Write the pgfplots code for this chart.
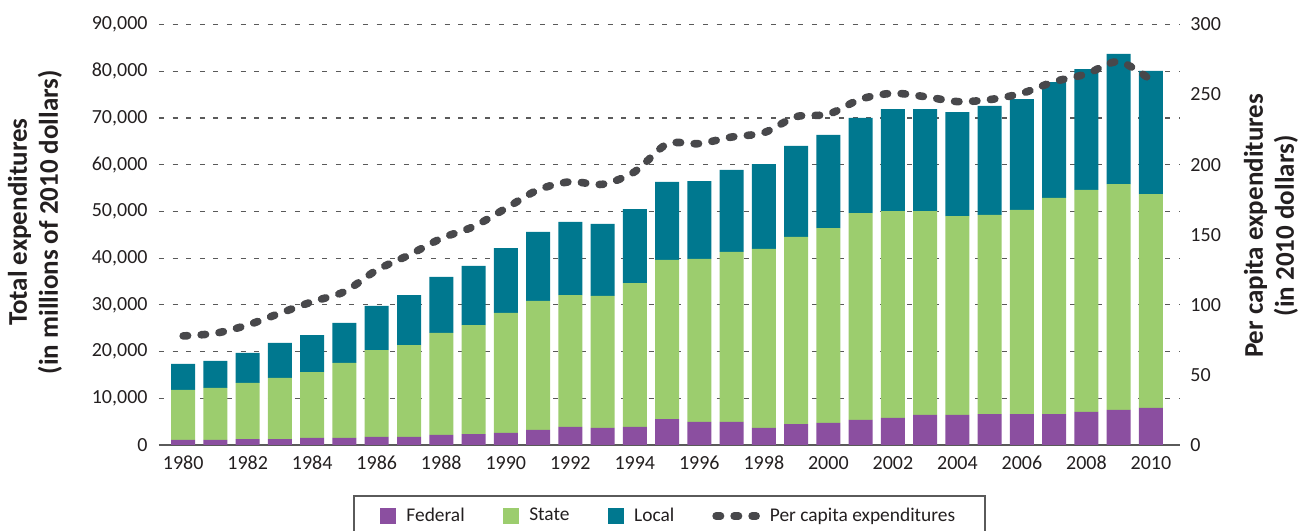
\documentclass[border=0pt]{standalone}
\usepackage{fontspec}
\setmainfont{Carlito}
\usepackage{pgfplots}
\usepackage{pgfplotstable}
\pgfplotsset{compat=1.18}

\definecolor{fedc}{HTML}{8B4FA0}
\definecolor{statec}{HTML}{9CCD6E}
\definecolor{localc}{HTML}{00788F}
\definecolor{linec}{HTML}{48484B}
\definecolor{gridc}{HTML}{5A5A5A}
\definecolor{txt}{HTML}{231F20}

% millions of 2010 dollars; per capita in 2010 dollars
\pgfplotstableread{
year federal state local percap
1980 1070 10700  5570  77.8
1981 1070 11130  5780  79.7
1982 1280 11990  6420  85.6
1983 1280 13060  7490  94.0
1984 1500 14120  7920 102.2
1985 1500 16050  8560 109.4
1986 1710 18620  9420 124.8
1987 1710 19690 10700 135.5
1988 2140 21830 11990 147.4
1989 2350 23330 12630 155.8
1990 2570 25680 13910 168.8
1991 3210 27610 14770 182.0
1992 3850 28250 15630 187.8
1993 3640 28250 15410 186.0
1994 3850 30820 15840 195.0
1995 5560 34040 16690 214.7
1996 4920 34890 16690 215.0
1997 4920 36390 17550 219.7
1998 3640 38310 18190 222.8
1999 4490 40030 19480 234.2
2000 4710 41730 19910 236.0
2001 5350 44300 20340 246.7
2002 5780 44300 21830 250.9
2003 6420 43660 21830 248.5
2004 6420 42590 22260 245.0
2005 6630 42600 23330 246.4
2006 6630 43670 23750 250.9
2007 6630 46240 24820 259.2
2008 7060 47520 25890 264.7
2009 7490 48370 27830 273.5
2010 7920 45800 26330 260.4
}\exptable

\tikzset{ttl/.style={align=center, font=\fontsize{13.5}{15.5}\selectfont\bfseries, text=txt, anchor=center}}

\pgfplotsset{
  base/.style={
    scale only axis, width=510.5pt, height=210.25pt,
    xmin=1979.25, xmax=2010.9, ymin=0,
    major tick length=0pt,
    tick label style={font=\fontsize{10}{12}\selectfont, text=txt},
    /pgf/number format/assume math mode=true,
  },
}

\begin{document}
\begin{tikzpicture}
\begin{axis}[base,
  ymax=90000,
  ybar stacked, bar width=12pt,
  axis x line*=bottom, axis y line*=left,
  x axis line style={gridc, line width=1pt, -},
  y axis line style={draw=none},
  xtick={1980,1982,...,2010},
  ytick={0,10000,...,90000},
  scaled y ticks=false,
  xticklabel style={/pgf/number format/1000 sep={}, yshift=-2pt},
  yticklabel style={xshift=-2.2pt},
  ymajorgrids,
  grid style={gridc, line width=0.6pt, dash pattern=on 2.5pt off 4.3pt},
  ylabel={Total expenditures\\(in millions of 2010 dollars)},
  ylabel style={ttl, at={(axis description cs:-0.1214,0.53)}},
]
\addplot[fill=fedc, draw=none] table[x=year, y=federal] {\exptable};
\addplot[fill=statec, draw=none] table[x=year, y=state] {\exptable};
\addplot[fill=localc, draw=none] table[x=year, y=local] {\exptable};
\coordinate (bl) at (rel axis cs:0,0);
\coordinate (tr) at (rel axis cs:1,1);
\end{axis}

\begin{axis}[base,
  ymax=300,
  axis x line=none, axis y line*=right,
  y axis line style={draw=none},
  ytick={0,50,...,300},
  yticklabel style={xshift=1.7pt},
  ylabel={Per capita expenditures\\(in 2010 dollars)},
  ylabel style={ttl, at={(axis description cs:1.089,0.521)}},
  legend columns=4,
  legend style={at={(0.5,-0.1190)}, anchor=north, draw=gridc, line width=0.8pt,
    font=\fontsize{9.7}{11.5}\selectfont, text=txt, inner xsep=13pt, inner ysep=4pt,
    /tikz/every odd column/.append style={column sep=3pt},
    /tikz/every even column/.append style={column sep=17pt}},
]
\addlegendimage{legend image code/.code={\fill[fedc] (0pt,-3.75pt) rectangle (7.5pt,3.75pt);}}
\addlegendentry{Federal}
\addlegendimage{legend image code/.code={\fill[statec] (0pt,-3.75pt) rectangle (7.5pt,3.75pt);}}
\addlegendentry{State}
\addlegendimage{legend image code/.code={\fill[localc] (0pt,-3.75pt) rectangle (7.5pt,3.75pt);}}
\addlegendentry{Local}
\addplot[linec, line width=3.8pt, line cap=round, dash pattern=on 2.2pt off 6.8pt,
  smooth, tension=0.5,
  legend image code/.code={\draw[linec, line width=3.8pt, line cap=round, dash pattern=on 2.2pt off 6.8pt] (1.9pt,0pt) -- (21.9pt,0pt);}]
  table[x=year, y=percap] {\exptable};
\addlegendentry{Per capita expenditures}
\end{axis}

\pgfresetboundingbox
\path[use as bounding box] ([shift={(-79.5pt,-43pt)}]bl) rectangle ([shift={(63.5pt,12.25pt)}]tr);
\end{tikzpicture}
\end{document}
